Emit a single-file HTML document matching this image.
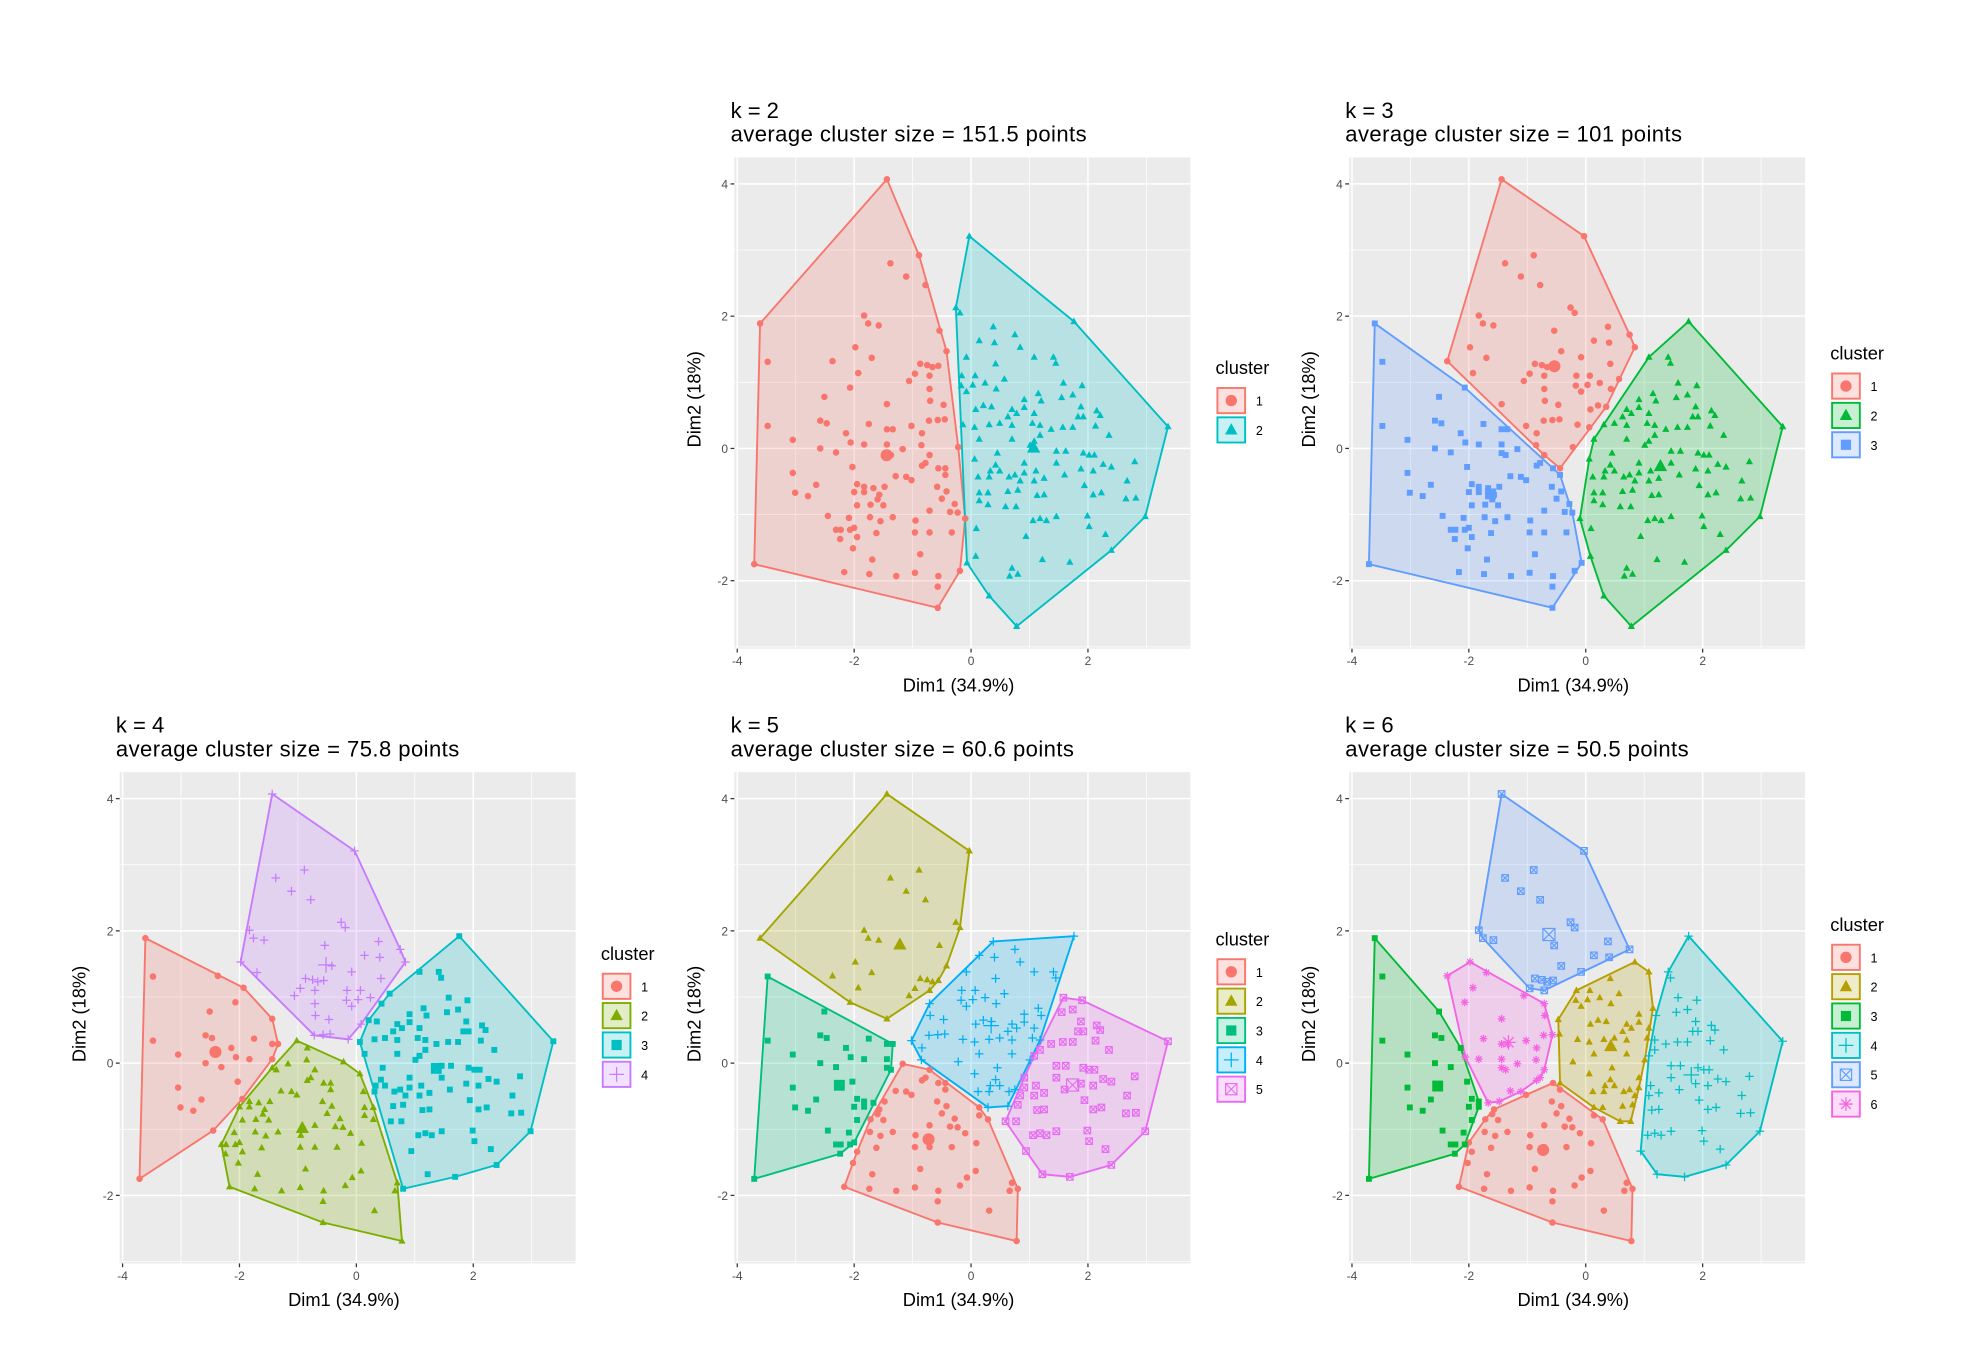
<!DOCTYPE html>
<html><head><meta charset="utf-8"><style>
html,body{margin:0;padding:0;background:#fff;}
svg{display:block;font-family:"Liberation Sans",sans-serif;}
</style></head><body>
<svg id="fig" width="1965" height="1356" viewBox="0 0 1560 1076.5" xmlns="http://www.w3.org/2000/svg"></svg>
<script>
// k=2 cluster 1
const c1x=[-1.44,-0.89,-0.54,-0.42,-0.22,-0.10,-0.19,-0.57,-3.71,-3.61,-1.38,-1.11,-0.78,-1.83,-1.76,-1.58,-1.98,-1.70,-2.37,-3.48,-1.93,-1.06,-0.96,-0.87,-0.75,-0.66,-0.56,-0.71,-2.07,-0.71,-2.51,-0.70,-0.47,-1.44,-2.58,-2.47,-1.75,-0.72,-0.57,-0.45,-3.48,-1.02,-1.44,-1.34,-2.14,-0.84,-3.05,-2.06,-1.83,-1.44,-0.85,-2.58,-2.31,-1.44,-1.37,-1.17,-0.71,-0.78,-2.03,-0.84,-0.56,-0.44,-0.44,-3.05,-1.29,-1.11,-1.02,-2.65,-1.95,-1.83,-1.67,-1.48,-0.58,-0.42,-3.01,-2.79,-2.00,-1.83,-1.57,-1.60,-0.50,-0.28,-1.95,-1.72,-1.50,-0.23,-2.45,-2.09,-1.73,-1.34,-1.55,-0.71,-0.36,-0.95,-2.31,-2.23,-2.07,-2.00,-2.24,-1.95,-1.62,-0.96,-0.71,-0.33,-2.02,-0.87,-1.69,-2.17,-1.74,-1.28,-0.96,-0.56,-0.57];
const c1y=[4.07,2.92,1.78,1.47,0.02,-1.06,-1.85,-2.41,-1.75,1.89,2.80,2.60,2.47,2.01,1.89,1.86,1.53,1.37,1.32,1.31,1.14,1.02,1.13,1.28,1.26,1.23,1.25,1.10,0.92,0.90,0.78,0.72,0.66,0.67,0.42,0.38,0.37,0.42,0.43,0.44,0.34,0.34,0.29,0.29,0.23,0.23,0.13,0.09,0.06,0.06,0.05,0,-0.06,-0.07,-0.10,-0.01,-0.10,-0.22,-0.28,-0.26,-0.30,-0.30,-0.40,-0.37,-0.42,-0.43,-0.48,-0.55,-0.54,-0.58,-0.60,-0.58,-0.58,-0.65,-0.67,-0.72,-0.66,-0.66,-0.70,-0.77,-0.76,-0.84,-0.86,-0.85,-0.86,-0.97,-1.02,-1.05,-1.04,-1.04,-1.10,-0.94,-0.96,-1.09,-1.23,-1.23,-1.23,-1.20,-1.37,-1.34,-1.28,-1.27,-1.27,-1.27,-1.51,-1.60,-1.68,-1.87,-1.90,-1.93,-1.88,-1.93,-2.09];
// k=2 cluster 2
const c2x=[-0.03,1.76,3.37,2.98,2.40,0.78,0.31,-0.07,-0.26,-0.19,0.38,0.75,0.14,0.40,0.84,-0.08,0.42,1.08,1.41,1.45,-0.16,0.07,0.24,0.57,-0.17,0.03,0.43,1.58,1.90,-0.08,0.91,1.55,1.74,1.15,0.21,0.35,0.08,0.70,0.91,1.20,1.88,2.15,2.21,0.63,0.78,1.08,1.83,1.92,-0.14,0.06,0.31,0.49,0.70,1.05,1.18,1.37,1.57,2.13,2.36,0.14,0.70,1.08,1.01,1.18,1.74,1.46,1.62,1.92,2.02,2.11,0.45,0.06,0.42,0.91,1.46,2.26,2.40,1.88,2.09,0.33,0.49,0.75,0.91,1.11,1.25,1.60,0.12,0.31,0.65,0.84,1.08,2.67,2.80,1.94,2.23,0.14,0.29,0.63,0.80,1.13,1.25,2.09,2.65,2.82,0.14,0.29,0.59,0.77,1.46,1.06,1.18,1.29,1.99,2.02,2.30,0.09,0.94,1.22,1.69,0.08,0.70,0.66,0.80];
const c2y=[3.21,1.92,0.33,-1.03,-1.54,-2.69,-2.23,-1.73,2.13,2.05,1.84,1.72,1.63,1.60,1.53,1.38,1.28,1.38,1.38,1.29,1.10,1.10,0.99,1.05,0.95,0.96,0.90,0.99,0.95,0.86,0.74,0.77,0.81,0.83,0.65,0.63,0.59,0.59,0.62,0.72,0.63,0.57,0.50,0.48,0.53,0.53,0.48,0.48,0.36,0.32,0.36,0.38,0.35,0.38,0.35,0.29,0.32,0.34,0.20,0.14,0.14,0.11,0.05,0.20,0.32,-0.04,-0.04,-0.07,-0.10,-0.10,-0.07,-0.16,-0.25,-0.22,-0.22,-0.24,-0.28,-0.31,-0.34,-0.34,-0.34,-0.40,-0.37,-0.34,-0.45,-0.40,-0.43,-0.43,-0.43,-0.49,-0.49,-0.49,-0.20,-0.56,-0.67,-0.67,-0.67,-0.65,-0.63,-0.71,-0.70,-0.70,-0.76,-0.75,-0.79,-0.85,-0.88,-0.88,-1.03,-1.09,-1.06,-1.09,-1.02,-1.18,-1.30,-1.21,-1.33,-1.68,-1.72,-1.63,-1.81,-1.93,-1.90];
// approximate cluster centres for k = 3..6
const cen3x=[-0.6,1.4,-2.0], cen3y=[1.2,0.1,-0.5];
const cen4x=[-2.4,-1.0,1.5,-0.8], cen4y=[0.3,-0.9,0.0,1.7];
const cen5x=[-0.8,-1.6,-2.6,0.3,1.8], cen5y=[-1.2,1.7,-0.2,0.5,-0.3];
const cen6x=[-0.8,0.3,-2.7,1.8,-0.7,-1.4], cen6y=[-1.2,0.3,-0.2,0.0,2.0,0.3];
const xTicks=[-4,-2,0,2], yTicks=[4,2,0,-2];
const xMinor=[-3,-1,1,3], yMinor=[3,1,-1,-3];
const subtitles=["average cluster size = 151.5 points","average cluster size = 101 points","average cluster size = 75.8 points","average cluster size = 60.6 points","average cluster size = 50.5 points"];
const kValues=[2,3,4,5,6];

const NS="http://www.w3.org/2000/svg";
const fig=document.getElementById('fig');
const PAL={2:["#F8766D","#00BFC4"],3:["#F8766D","#00BA38","#619CFF"],4:["#F8766D","#7CAE00","#00BFC4","#C77CFF"],5:["#F8766D","#A3A500","#00BF7D","#00B0F6","#E76BF3"],6:["#F8766D","#B79F00","#00BA38","#00BFC4","#619CFF","#F564E3"]};
const ORIG=[[583,125],[1071,125],[95,613],[583,613],[1071,613]];
const PW=362,PH=390;
function mk(tag,attrs,parent){const e=document.createElementNS(NS,tag);for(const k in attrs)e.setAttribute(k,attrs[k]);(parent||fig).appendChild(e);return e;}
const allX=c1x.concat(c2x), allY=c1y.concat(c2y);
function assign(cx,cy){return allX.map((x,i)=>{let b=0,bd=1e9;for(let j=0;j<cx.length;j++){const d=(x-cx[j])**2+(allY[i]-cy[j])**2;if(d<bd){bd=d;b=j;}}return b;});}
function hull(pts){pts=pts.slice().sort((a,b)=>a[0]-b[0]||a[1]-b[1]);if(pts.length<3)return pts;const cr=(o,a,b)=>(a[0]-o[0])*(b[1]-o[1])-(a[1]-o[1])*(b[0]-o[0]);const lo=[],up=[];for(const p of pts){while(lo.length>=2&&cr(lo[lo.length-2],lo[lo.length-1],p)<=0)lo.pop();lo.push(p);}for(let i=pts.length-1;i>=0;i--){const p=pts[i];while(up.length>=2&&cr(up[up.length-2],up[up.length-1],p)<=0)up.pop();up.push(p);}up.pop();lo.pop();return lo.concat(up);}
function shape(g,s,px,py,col,sz){
  const r=sz;
  if(s===0){mk('circle',{cx:px,cy:py,r:r,fill:col},g);}
  else if(s===1){mk('polygon',{points:`${px},${py-r*1.2} ${px+r*1.1},${py+r*0.8} ${px-r*1.1},${py+r*0.8}`,fill:col},g);}
  else if(s===2){mk('rect',{x:px-r*0.9,y:py-r*0.9,width:r*1.8,height:r*1.8,fill:col},g);}
  else if(s===3){mk('path',{d:`M${px-r*1.3},${py}H${px+r*1.3}M${px},${py-r*1.3}V${py+r*1.3}`,stroke:col,'stroke-width':1,fill:'none'},g);}
  else if(s===4){mk('path',{d:`M${px-r},${py-r}h${2*r}v${2*r}h${-2*r}zM${px-r},${py-r}L${px+r},${py+r}M${px+r},${py-r}L${px-r},${py+r}`,stroke:col,'stroke-width':0.9,fill:'none'},g);}
  else {mk('path',{d:`M${px-r*1.2},${py}H${px+r*1.2}M${px},${py-r*1.2}V${py+r*1.2}M${px-r*0.85},${py-r*0.85}L${px+r*0.85},${py+r*0.85}M${px+r*0.85},${py-r*0.85}L${px-r*0.85},${py+r*0.85}`,stroke:col,'stroke-width':1,fill:'none'},g);}
}
kValues.forEach((k,pi)=>{
  const [ox,oy]=ORIG[pi];
  const sx=d=>ox+(d+4.05)*46.4, sy=d=>oy+(4.4-d)*52.5;
  const g=mk('g',{});
  
  
  const t1=mk('text',{x:ox-3,y:oy-31.5,'font-size':17.5,fill:'#000'},g);t1.textContent='k = '+k;
  
  
  const t2=mk('text',{x:ox-3,y:oy-12.5,'font-size':17.5,'letter-spacing':0.35,fill:'#000'},g);t2.textContent=subtitles[pi];
  
  
  const bg=mk('rect',{x:ox,y:oy,width:PW,height:PH,fill:'#EBEBEB'},g);
  
  
  xMinor.forEach(v=>mk('line',{x1:sx(v),x2:sx(v),y1:oy,y2:oy+PH,stroke:'#fff','stroke-width':0.6},g));
  yMinor.forEach(v=>mk('line',{y1:sy(v),y2:sy(v),x1:ox,x2:ox+PW,stroke:'#fff','stroke-width':0.6},g));
  xTicks.forEach(v=>{mk('line',{x1:sx(v),x2:sx(v),y1:oy,y2:oy+PH,stroke:'#fff','stroke-width':1.2},g);mk('line',{x1:sx(v),x2:sx(v),y1:oy+PH,y2:oy+PH+3,stroke:'#333','stroke-width':1},g);const t=mk('text',{x:sx(v),y:oy+PH+13,'font-size':9.5,fill:'#4D4D4D','text-anchor':'middle'},g);t.textContent=v;});
  yTicks.forEach(v=>{mk('line',{y1:sy(v),y2:sy(v),x1:ox,x2:ox+PW,stroke:'#fff','stroke-width':1.2},g);mk('line',{y1:sy(v),y2:sy(v),x1:ox-3,x2:ox,stroke:'#333','stroke-width':1},g);const t=mk('text',{x:ox-5,y:sy(v)+3.5,'font-size':9.5,fill:'#4D4D4D','text-anchor':'end'},g);t.textContent=v;});
  const xt=mk('text',{x:ox+PW/2-3,y:oy+PH+34,'font-size':14.5,fill:'#000','text-anchor':'middle'},g);xt.textContent='Dim1 (34.9%)';
  
  
  const yt=mk('text',{x:0,y:0,'font-size':14.5,fill:'#000','text-anchor':'middle',transform:`translate(${ox-27},${oy+PH/2-3}) rotate(-90)`},g);yt.textContent='Dim2 (18%)';
  
  
  let lab;
  if(k===2) lab=c1x.map(()=>0).concat(c2x.map(()=>1));
  else if(k===3) lab=assign(cen3x,cen3y);
  else if(k===4) lab=assign(cen4x,cen4y);
  else if(k===5) lab=assign(cen5x,cen5y);
  else lab=assign(cen6x,cen6y);
  const cols=PAL[k];
  for(let c=0;c<k;c++){
    const pts=[];allX.forEach((x,i)=>{if(lab[i]===c)pts.push([x,allY[i]]);});
    if(!pts.length)continue;
    const h=hull(pts);
    const poly=mk('polygon',{points:h.map(p=>sx(p[0])+','+sy(p[1])).join(' '),fill:cols[c],'fill-opacity':0.22,stroke:cols[c],'stroke-width':1.5},g);
    
    
  }
  for(let c=0;c<k;c++){
    const pg=mk('g',{},g);
    
    
    let mx=0,my=0,n=0;
    allX.forEach((x,i)=>{if(lab[i]===c){shape(pg,c,sx(x),sy(allY[i]),cols[c],2.6);mx+=x;my+=allY[i];n++;}});
    if(n)shape(pg,c,sx(mx/n),sy(my/n),cols[c],4.8);
  }
  // legend
  const lx=ox+PW+21, ly=oy+172-(k-2)*11.5;
  const lg=mk('g',{},g);
  
  
  const lt=mk('text',{x:lx-1,y:ly,'font-size':14.5,fill:'#000'},lg);lt.textContent='cluster';
  
  
  for(let c=0;c<k;c++){
    const ey=ly+11+c*23.3;
    const eg=mk('g',{},lg);
    
    
    mk('rect',{x:lx+0.5,y:ey,width:22,height:20,fill:cols[c],'fill-opacity':0.22,stroke:cols[c],'stroke-width':1.5},eg);
    shape(eg,c,lx+11.5,ey+10,cols[c],4.5);
    const tt=mk('text',{x:lx+31,y:ey+14,'font-size':10,fill:'#000'},eg);tt.textContent=c+1;
  }
});
</script>
</body></html>
